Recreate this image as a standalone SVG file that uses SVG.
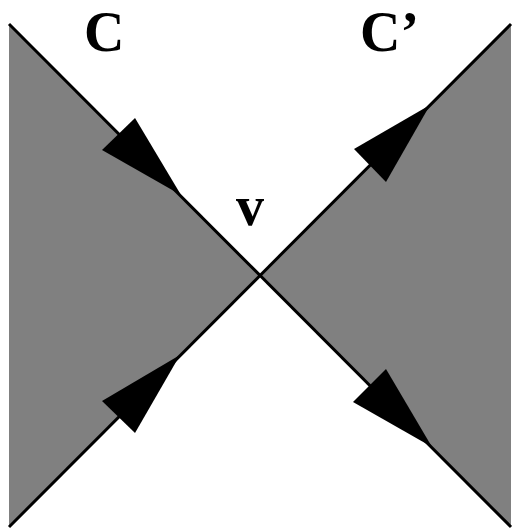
<svg xmlns="http://www.w3.org/2000/svg" width="514" height="531" viewBox="0 0 514 531">
<style>
.region{fill:#808080;stroke:none}
.edge{stroke:#000;stroke-width:3;fill:none}
.arrow{fill:#000;stroke:none}
.lbl{font-family:"Liberation Serif",serif;font-size:56px;font-weight:bold;fill:#000}
</style>
<rect width="514" height="531" fill="#fff"/>
<g id="region-C">
<polygon class="region" points="9,24 260,276 9,527"/>
</g>
<g id="region-Cprime">
<polygon class="region" points="511,24 260,276 511,527"/>
</g>
<g id="connectors">
<line class="edge" x1="9" y1="24" x2="511" y2="527"/>
<line class="edge" x1="9" y1="527" x2="511" y2="24"/>
<polygon class="arrow" points="181,195 135,118 102,150"/>
<polygon class="arrow" points="180,355 102,401 135,433"/>
<polygon class="arrow" points="430,105 354,149 386,182"/>
<polygon class="arrow" points="432,447 386,369 353,402"/>
</g>
<g id="label-C"><text class="lbl" x="84" y="51">C</text></g>
<g id="label-Cp"><text class="lbl" x="360" y="51">C’</text></g>
<g id="label-v"><text class="lbl" x="236" y="225">v</text></g>
</svg>
